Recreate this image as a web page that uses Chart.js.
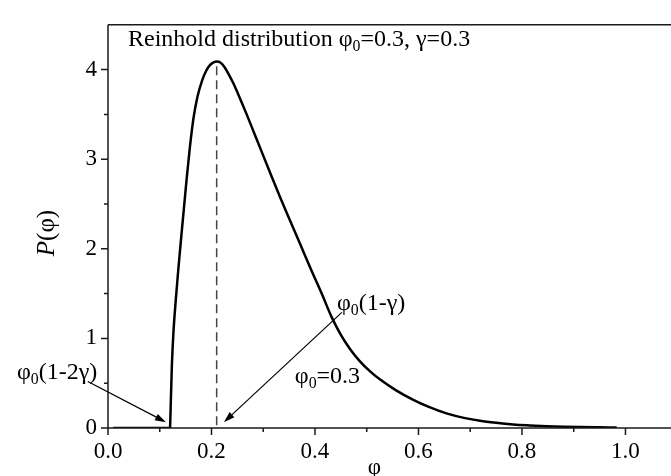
<!DOCTYPE html>
<html>
<head>
<meta charset="utf-8">
<script src="https://cdn.jsdelivr.net/npm/chart.js@4.4.1/dist/chart.umd.min.js"></script>
<style>
html, body { margin: 0; padding: 0; background: #fff; overflow: hidden; }
</style>
</head>
<body>
<canvas id="myCanvas" width="671" height="476"></canvas>
<script>
// flat part before the cut-off
var flatPhi = [0.01, 0.12]
var flatP   = [0, 0]

// curve
var phi = [0.12, 0.1235, 0.1265, 0.131, 0.136, 0.142, 0.147, 0.152, 0.158, 0.165, 0.173, 0.182, 0.19, 0.197, 0.204,
           0.21, 0.217, 0.225, 0.233, 0.242, 0.252, 0.268, 0.284, 0.3, 0.316, 0.333, 0.353, 0.373, 0.393, 0.413,
           0.432, 0.45, 0.468, 0.486, 0.506, 0.526, 0.556, 0.59, 0.62, 0.654, 0.69, 0.719, 0.75, 0.783, 0.815,
           0.848, 0.88, 0.912, 0.95, 0.983]
var P   = [0, 0.71, 1.07, 1.43, 1.78, 2.16, 2.47, 2.78, 3.12, 3.45, 3.70, 3.88, 3.99, 4.05, 4.08,
           4.09, 4.08, 4.03, 3.95, 3.85, 3.72, 3.50, 3.27, 3.04, 2.81, 2.57, 2.30, 2.03, 1.76, 1.50,
           1.24, 1.04, 0.88, 0.75, 0.635, 0.54, 0.423, 0.314, 0.235, 0.163, 0.11, 0.08, 0.058, 0.04, 0.029,
           0.02, 0.014, 0.01, 0.007, 0.005]

// dashed line at the peak
var peakPhi = [0.21, 0.21]
var peakP   = [0.03, 4.08]

var xLabels = ['0.0', '0.2', '0.4', '0.6', '0.8', '1.0']
var yLabels = ['0', '1', '2', '3', '4']

var serif = 'Liberation Serif, Times New Roman, serif'

function pts(xs, ys) {
    return xs.map(function (x, i) { return {x: x, y: ys[i]} })
}

// text with subscripts: parts = [[text, isSub], ...]
function drawParts(ctx, parts, x, y, size) {
    parts.forEach(function (p) {
        var s = p[1] ? size * 0.66 : size
        ctx.font = s + 'px ' + serif
        ctx.fillText(p[0], x, y + (p[1] ? size * 0.22 : 0))
        x += ctx.measureText(p[0]).width
    })
}

function arrow(ctx, x1, y1, x2, y2) {
    var a = Math.atan2(y2 - y1, x2 - x1)
    ctx.beginPath()
    ctx.moveTo(x1, y1)
    ctx.lineTo(x2 - 6 * Math.cos(a), y2 - 6 * Math.sin(a))
    ctx.stroke()
    ctx.beginPath()
    ctx.moveTo(x2, y2)
    ctx.lineTo(x2 - 11 * Math.cos(a) + 3.5 * Math.sin(a), y2 - 11 * Math.sin(a) - 3.5 * Math.cos(a))
    ctx.lineTo(x2 - 11 * Math.cos(a) - 3.5 * Math.sin(a), y2 - 11 * Math.sin(a) + 3.5 * Math.cos(a))
    ctx.closePath()
    ctx.fill()
}

var decor = {
    id: 'decor',
    afterDraw: function (chart) {
        var ctx = chart.ctx, a = chart.chartArea
        var xs = chart.scales.x, ys = chart.scales.y
        var X = function (v) { return xs.getPixelForValue(v) }
        var Y = function (v) { return ys.getPixelForValue(v) }
        ctx.save()
        ctx.strokeStyle = '#1a1a1a'
        ctx.fillStyle = '#1a1a1a'
        ctx.lineWidth = 1.5
        // frame: left, bottom, top
        ctx.beginPath()
        ctx.moveTo(a.left, a.top); ctx.lineTo(a.left, a.bottom)
        ctx.moveTo(a.left, a.bottom); ctx.lineTo(chart.width, a.bottom)
        ctx.moveTo(a.left, a.top); ctx.lineTo(chart.width, a.top)
        ctx.stroke()
        // tick marks, major and minor
        ctx.beginPath()
        for (var i = 0; i <= 10; i++) {
            var len = i % 2 === 0 ? 7 : 4
            ctx.moveTo(X(i / 10), a.bottom); ctx.lineTo(X(i / 10), a.bottom + len)
        }
        for (var j = 0; j <= 8; j++) {
            var l2 = j % 2 === 0 ? 7 : 4
            ctx.moveTo(a.left, Y(j / 2)); ctx.lineTo(a.left - l2, Y(j / 2))
        }
        ctx.stroke()

        // texts
        ctx.fillStyle = '#000'
        ctx.textBaseline = 'alphabetic'
        ctx.textAlign = 'left'
        drawParts(ctx, [['Reinhold distribution φ', 0], ['0', 1], ['=0.3, γ=0.3', 0]], X(0.0387), Y(4.264), 24)
        drawParts(ctx, [['φ', 0], ['0', 1], ['(1-2γ)', 0]], X(-0.176), Y(0.545), 24)
        drawParts(ctx, [['φ', 0], ['0', 1], ['(1-γ)', 0]], X(0.4425), Y(1.32), 24)
        drawParts(ctx, [['φ', 0], ['0', 1], ['=0.3', 0]], X(0.361), Y(0.50), 24)

        // axis titles
        ctx.textAlign = 'center'
        ctx.font = '23px ' + serif
        ctx.fillText('φ', X(0.515), 474)
        ctx.save()
        ctx.translate(54, 233)
        ctx.rotate(-Math.PI / 2)
        ctx.textAlign = 'left'
        ctx.font = 'italic 25px ' + serif
        var w1 = ctx.measureText('P').width
        ctx.font = '25px ' + serif
        var w2 = ctx.measureText('(φ)').width
        var x0 = -(w1 + w2) / 2
        ctx.font = 'italic 25px ' + serif
        ctx.fillText('P', x0, 0)
        ctx.font = '25px ' + serif
        ctx.fillText('(φ)', x0 + w1, 0)
        ctx.restore()

        // arrows
        ctx.lineWidth = 1.2
        ctx.strokeStyle = '#000'
        ctx.fillStyle = '#000'
        arrow(ctx, X(-0.039), Y(0.52), X(0.112), Y(0.065))
        arrow(ctx, X(0.452), Y(1.29), X(0.224), Y(0.065))
        ctx.restore()
    }
}

var ctx = document.getElementById('myCanvas')
var myChart = new Chart(ctx, {
    type: 'line',
    data: {
        datasets: [
            {
                data: pts(phi, P),
                borderColor: '#000',
                borderWidth: 2.5,
                pointRadius: 0,
                cubicInterpolationMode: 'monotone',
                fill: false,
            },
            {
                data: pts(flatPhi, flatP),
                borderColor: '#000',
                borderWidth: 2.5,
                pointRadius: 0,
                fill: false,
            },
            {
                data: pts(peakPhi, peakP),
                borderColor: '#444',
                borderWidth: 1.5,
                borderDash: [9, 5],
                pointRadius: 0,
                fill: false,
            }
        ]
    },
    options: {
        responsive: false,
        animation: false,
        devicePixelRatio: 1,
        layout: {padding: {top: 14, right: 0, left: 0, bottom: 0}},
        plugins: {legend: {display: false}, tooltip: {enabled: false}},
        scales: {
            x: {
                type: 'linear',
                min: 0,
                max: 1.088,
                afterFit: function (s) { s.height = 48 },
                grid: {display: false, drawTicks: false},
                border: {display: false},
                ticks: {
                    stepSize: 0.1,
                    includeBounds: false,
                    autoSkip: false,
                    maxRotation: 0,
                    padding: 10,
                    color: '#000',
                    font: {family: serif, size: 23},
                    callback: function (v) {
                        var s = v.toFixed(1)
                        return xLabels.indexOf(s) >= 0 ? s : ''
                    }
                }
            },
            y: {
                min: 0,
                max: 4.5,
                afterFit: function (s) { s.width = 108 },
                grid: {display: false, drawTicks: false},
                border: {display: false},
                ticks: {
                    stepSize: 0.5,
                    autoSkip: false,
                    padding: 11,
                    color: '#000',
                    font: {family: serif, size: 23},
                    callback: function (v) {
                        var s = String(v)
                        return yLabels.indexOf(s) >= 0 ? s : ''
                    }
                }
            }
        }
    },
    plugins: [decor]
});
</script>
</body>
</html>
